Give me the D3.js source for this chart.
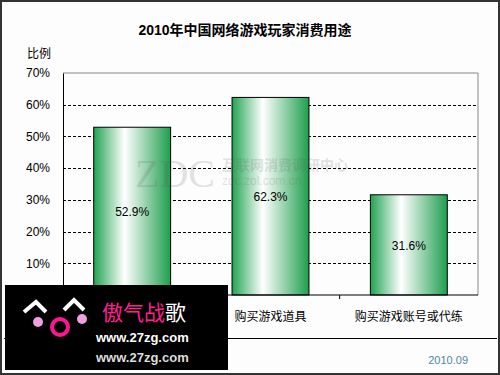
<!DOCTYPE html>
<html>
<head>
<meta charset="utf-8">
<script src="https://cdn.jsdelivr.net/npm/d3@7"></script>
<style>
  body { margin: 0; background: #fff; }
  svg { display: block; font-family: "Liberation Sans", Arial, "Noto Sans CJK SC", sans-serif; }
</style>
</head>
<body>
<svg width="500" height="375"></svg>
<script>
// first category is hidden under the logo block in the source image
var categories = ['购买游戏装备', '购买游戏道具', '购买游戏账号或代练'];
var values = [52.9, 62.3, 31.6];
var tickValues = [10, 20, 30, 40, 50, 60, 70];

var width = 500;
var height = 375;
var margin = {top: 73, right: 22, bottom: 80, left: 63};

var svg = d3.select('svg');

var defs = svg.append('defs');
var grad = defs.append('linearGradient')
  .attr('id', 'barGrad')
  .attr('x1', '0%').attr('x2', '100%')
  .attr('y1', '0%').attr('y2', '0%');
grad.append('stop').attr('offset', '0%').attr('stop-color', '#22a352');
grad.append('stop').attr('offset', '40%').attr('stop-color', '#ffffff');
grad.append('stop').attr('offset', '100%').attr('stop-color', '#1e9e4e');

// frame
svg.append('rect')
  .attr('x', 1).attr('y', 1)
  .attr('width', width - 2).attr('height', height - 2)
  .attr('fill', '#fdfdfd')
  .attr('stroke', '#333').attr('stroke-width', 2);

svg.append('text')
  .attr('x', 245).attr('y', 35)
  .attr('text-anchor', 'middle')
  .style('font-size', '14px').style('font-weight', 'bold')
  .text('2010年中国网络游戏玩家消费用途');

svg.append('text')
  .attr('x', 27).attr('y', 58)
  .style('font-size', '12px')
  .text('比例');

var x = d3.scaleBand()
  .domain(categories)
  .range([margin.left, width - margin.right])
  .paddingInner(0.444)
  .paddingOuter(0.222);

var y = d3.scaleLinear()
  .domain([0, 70])
  .range([height - margin.bottom, margin.top]);

var g = svg.append('g');

// plot box top & right
g.append('path')
  .attr('d', 'M' + margin.left + ',' + y(70) + 'H' + (width - margin.right) + 'V' + y(0))
  .attr('fill', 'none')
  .attr('stroke', '#888');

// dashed grid
g.selectAll('.grid')
  .data(tickValues.filter(d => d < 70))
  .enter()
  .append('line')
  .classed('grid', true)
  .attr('x1', margin.left).attr('x2', width - margin.right)
  .attr('y1', d => Math.round(y(d)) + 0.5).attr('y2', d => Math.round(y(d)) + 0.5)
  .attr('stroke', '#000')
  .attr('stroke-dasharray', '3,2');

// y axis
var yAxis = g.append('g')
  .attr('transform', 'translate(' + margin.left + ',0)')
  .call(d3.axisLeft(y).tickValues(tickValues).tickSize(0).tickPadding(13).tickFormat(d => d + '%'));
yAxis.select('.domain').attr('stroke', '#000');
yAxis.selectAll('text').style('font-size', '12px').attr('fill', '#000')
  .style('font-family', '"Liberation Sans", Arial, sans-serif');

// bars
g.selectAll('.bar')
  .data(values)
  .enter()
  .append('rect')
  .classed('bar', true)
  .attr('x', (d, i) => x(categories[i]))
  .attr('y', d => y(d))
  .attr('width', x.bandwidth())
  .attr('height', d => y(0) - y(d))
  .attr('fill', 'url(#barGrad)')
  .attr('stroke', '#000')
  .attr('stroke-width', 1);

// ZDC watermark (sits over the bars)
var wm = g.append('g').attr('opacity', 0.16).attr('fill', '#555');
wm.append('text').attr('x', 135).attr('y', 187)
  .style('font-size', '40px').style('font-family', '"Liberation Serif", serif')
  .text('ZDC');
wm.append('text').attr('x', 222).attr('y', 170).style('font-size', '14px').style('font-weight', 'bold')
  .text('互联网消费调研中心');
wm.append('text').attr('x', 222).attr('y', 185).style('font-size', '12px')
  .text('zdc.zol.com.cn');

g.selectAll('.val')
  .data(values)
  .enter()
  .append('text')
  .classed('val', true)
  .attr('x', (d, i) => x(categories[i]) + x.bandwidth() / 2)
  .attr('y', d => (y(d) + y(0)) / 2 + 5)
  .attr('text-anchor', 'middle')
  .style('font-size', '12px')
  .text(d => d + '%');

// x axis
var xAxis = g.append('g')
  .attr('transform', 'translate(0,' + y(0) + ')');
xAxis.append('line')
  .attr('x1', margin.left).attr('x2', width - margin.right)
  .attr('stroke', '#000');
xAxis.selectAll('.tick')
  .data(categories.slice(1))
  .enter()
  .append('line')
  .attr('x1', d => x(d) - x.step() * x.paddingInner() / 2)
  .attr('x2', d => x(d) - x.step() * x.paddingInner() / 2)
  .attr('y1', 0).attr('y2', 4)
  .attr('stroke', '#000');
xAxis.selectAll('.cat')
  .data(categories.slice(1))
  .enter()
  .append('text')
  .attr('x', d => x(d) + x.bandwidth() / 2)
  .attr('y', 26)
  .attr('text-anchor', 'middle')
  .style('font-size', '12px')
  .text(d => d);

// separator and date
svg.append('line')
  .attr('x1', 4).attr('x2', 497)
  .attr('y1', 338.5).attr('y2', 338.5)
  .attr('stroke', '#000');
svg.append('text')
  .attr('x', 468).attr('y', 364)
  .attr('text-anchor', 'end')
  .attr('fill', '#4f85a8')
  .style('font-size', '11px')
  .text('2010.09');

// overlay logo block
var logo = svg.append('g');
logo.append('rect')
  .attr('x', 5).attr('y', 285).attr('width', 223).attr('height', 85)
  .attr('fill', '#000');
logo.append('path')
  .attr('d', 'M24,312 L36,302 L46,312 M64,310 L74,300 L84,310')
  .attr('fill', 'none').attr('stroke', '#fff').attr('stroke-width', 4);
logo.append('circle').attr('cx', 38).attr('cy', 322).attr('r', 5).attr('fill', '#f0a0e0');
logo.append('circle').attr('cx', 82).attr('cy', 319).attr('r', 5).attr('fill', '#f0a0e0');
logo.append('circle').attr('cx', 60).attr('cy', 327).attr('r', 8)
  .attr('fill', 'none').attr('stroke', '#ff1493').attr('stroke-width', 4);
logo.append('text').attr('x', 102).attr('y', 320)
  .style('font-size', '21px').attr('fill', '#ff1f8f')
  .text('傲气战')
  .append('tspan').attr('fill', '#fff').text('歌');
logo.append('text').attr('x', 96).attr('y', 342)
  .style('font-size', '13px').style('font-weight', 'bold').attr('fill', '#fff')
  .text('www.27zg.com');
logo.append('text').attr('x', 96).attr('y', 362)
  .style('font-size', '13px').style('font-weight', 'bold').attr('fill', '#ddd')
  .text('www.27zg.com');
</script>
</body>
</html>
